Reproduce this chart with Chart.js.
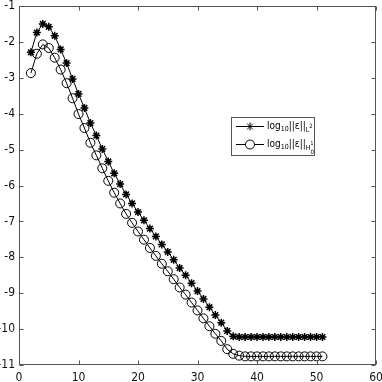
<!DOCTYPE html>
<html lang="pt-br">
<head>
<meta charset="UTF-8" />
<title>Erro log10</title>
<script src="https://cdn.jsdelivr.net/npm/chart.js"></script>
<style>
  html, body { margin: 0; padding: 0; background: #fff; }
  #wrap { width: 382px; height: 382px; }
</style>
</head>
<body>
<div id="wrap"><canvas id="grafico" width="382" height="382"></canvas></div>

<script>
  // Dados
  const iteracoes = [2, 3, 4, 5, 6, 7, 8, 9, 10, 11, 12, 13, 14, 15, 16, 17, 18, 19, 20, 21,
    22, 23, 24, 25, 26, 27, 28, 29, 30, 31, 32, 33, 34, 35, 36, 37, 38, 39, 40, 41,
    42, 43, 44, 45, 46, 47, 48, 49, 50, 51];
  const erroL2 = [-2.29, -1.74, -1.50, -1.58, -1.83, -2.21, -2.59, -3.03, -3.45, -3.84,
    -4.26, -4.61, -4.98, -5.33, -5.66, -5.96, -6.25, -6.50, -6.74, -6.97,
    -7.20, -7.42, -7.64, -7.85, -8.07, -8.30, -8.50, -8.72, -8.94, -9.16,
    -9.39, -9.61, -9.82, -10.05, -10.20, -10.22, -10.22, -10.22, -10.22, -10.22,
    -10.22, -10.22, -10.22, -10.22, -10.22, -10.22, -10.22, -10.22, -10.22, -10.22];
  const erroH1 = [-2.87, -2.33, -2.07, -2.17, -2.44, -2.77, -3.15, -3.57, -4.01, -4.40,
    -4.81, -5.16, -5.52, -5.87, -6.20, -6.50, -6.79, -7.04, -7.28, -7.51,
    -7.74, -7.96, -8.18, -8.39, -8.61, -8.84, -9.04, -9.26, -9.48, -9.70,
    -9.92, -10.13, -10.33, -10.56, -10.69, -10.74, -10.76, -10.76, -10.76, -10.76,
    -10.76, -10.76, -10.76, -10.76, -10.76, -10.76, -10.76, -10.76, -10.76, -10.76];
  const ticksX = [0, 10, 20, 30, 40, 50, 60];
  const ticksY = [-11, -10, -9, -8, -7, -6, -5, -4, -3, -2, -1];

  const fonte = '"Liberation Sans Narrow", "DejaVu Sans Condensed", sans-serif';
  Chart.defaults.font.family = fonte;
  Chart.defaults.color = '#111';

  // Texto com subscritos / sobrescritos
  function textoRico(ctx, partes, x, y) {
    partes.forEach(p => {
      ctx.font = p.s + 'px ' + fonte;
      ctx.fillText(p.t, x, y + (p.dy || 0));
      if (!p.fica) x += ctx.measureText(p.t).width;
    });
  }

  // Moldura com ticks para dentro (estilo MATLAB)
  const moldura = {
    id: 'moldura',
    afterDatasetsDraw(chart) {
      const { ctx, chartArea: a, scales: { x, y } } = chart;
      const l = Math.round(a.left) + 0.5, r = Math.round(a.right) - 0.5;
      const t = Math.round(a.top) + 0.5, b = Math.round(a.bottom) - 0.5;
      ctx.save();
      ctx.strokeStyle = '#555';
      ctx.lineWidth = 1;
      ctx.strokeRect(l, t, r - l, b - t);
      ctx.beginPath();
      ticksX.forEach(v => {
        const px = Math.round(x.getPixelForValue(v)) + 0.5;
        ctx.moveTo(px, b); ctx.lineTo(px, b - 4);
        ctx.moveTo(px, t); ctx.lineTo(px, t + 4);
      });
      ticksY.forEach(v => {
        const py = Math.round(y.getPixelForValue(v)) + 0.5;
        ctx.moveTo(l, py); ctx.lineTo(l + 4, py);
        ctx.moveTo(r, py); ctx.lineTo(r - 4, py);
      });
      ctx.stroke();
      ctx.restore();
    }
  };

  // Legenda desenhada à mão por causa dos subscritos
  const legenda = {
    id: 'legenda',
    afterDraw(chart) {
      const ctx = chart.ctx;
      const bx = 231.5, by = 117.5, bw = 83, bh = 38;
      ctx.save();
      ctx.fillStyle = '#fff';
      ctx.fillRect(bx, by, bw, bh);
      ctx.strokeStyle = '#555';
      ctx.lineWidth = 1;
      ctx.strokeRect(bx, by, bw, bh);

      const linhas = [126.5, 144.5];
      chart.data.datasets.forEach((ds, i) => {
        const ly = linhas[i];
        ctx.strokeStyle = '#000';
        ctx.beginPath();
        ctx.moveTo(236, ly); ctx.lineTo(264, ly);
        ctx.stroke();
        Chart.helpers.drawPoint(ctx, {
          pointStyle: ds.pointStyle, radius: ds.pointRadius, borderWidth: 1.2
        }, 250, ly);
      });

      ctx.fillStyle = '#000';
      ctx.textBaseline = 'alphabetic';
      textoRico(ctx, [
        { t: 'log', s: 10 }, { t: '10', s: 7, dy: 2 }, { t: '||ε||', s: 10 },
        { t: 'L', s: 7, dy: 3 }, { t: '2', s: 6, dy: -1 }
      ], 267, linhas[0] + 2);
      textoRico(ctx, [
        { t: 'log', s: 10 }, { t: '10', s: 7, dy: 2 }, { t: '||ε||', s: 10 },
        { t: 'H', s: 7, dy: 3 }, { t: '1', s: 5, dy: -2, fica: true }, { t: '0', s: 6, dy: 7 }
      ], 267, linhas[1] + 2);
      ctx.restore();
    }
  };

  new Chart(document.getElementById('grafico'), {
    type: 'line',
    data: {
      datasets: [{
        label: 'log10||ε||L2',
        data: iteracoes.map((k, i) => ({ x: k, y: erroL2[i] })),
        borderColor: '#000',
        borderWidth: 1,
        pointStyle: 'star',
        pointRadius: 4,
        pointBorderColor: '#000',
        pointBorderWidth: 1.5,
        pointBackgroundColor: '#000',
        tension: 0
      }, {
        label: 'log10||ε||H10',
        data: iteracoes.map((k, i) => ({ x: k, y: erroH1[i] })),
        borderColor: '#000',
        borderWidth: 1,
        pointStyle: 'circle',
        pointRadius: 4.5,
        pointBorderColor: '#000',
        pointBorderWidth: 1,
        pointBackgroundColor: 'rgba(255,255,255,0)',
        tension: 0
      }]
    },
    options: {
      responsive: false,
      animation: false,
      events: [],
      layout: { padding: { top: 6, right: 6, left: 0, bottom: 0 } },
      plugins: { legend: { display: false }, tooltip: { enabled: false } },
      scales: {
        x: {
          type: 'linear',
          min: 0, max: 60,
          afterBuildTicks: s => { s.ticks = ticksX.map(v => ({ value: v })); },
          afterFit: s => { s.height = 17; s.paddingLeft = 0; s.paddingRight = 0; },
          grid: { display: false, drawTicks: false },
          border: { display: false },
          ticks: { font: { size: 12 }, padding: 6, maxRotation: 0 }
        },
        y: {
          type: 'linear',
          min: -11, max: -1,
          afterBuildTicks: s => { s.ticks = ticksY.map(v => ({ value: v })); },
          afterFit: s => { s.width = 19; s.paddingTop = 0; s.paddingBottom = 0; },
          grid: { display: false, drawTicks: false },
          border: { display: false },
          ticks: { font: { size: 12 }, padding: 4 }
        }
      }
    },
    plugins: [moldura, legenda]
  });
</script>
</body>
</html>
